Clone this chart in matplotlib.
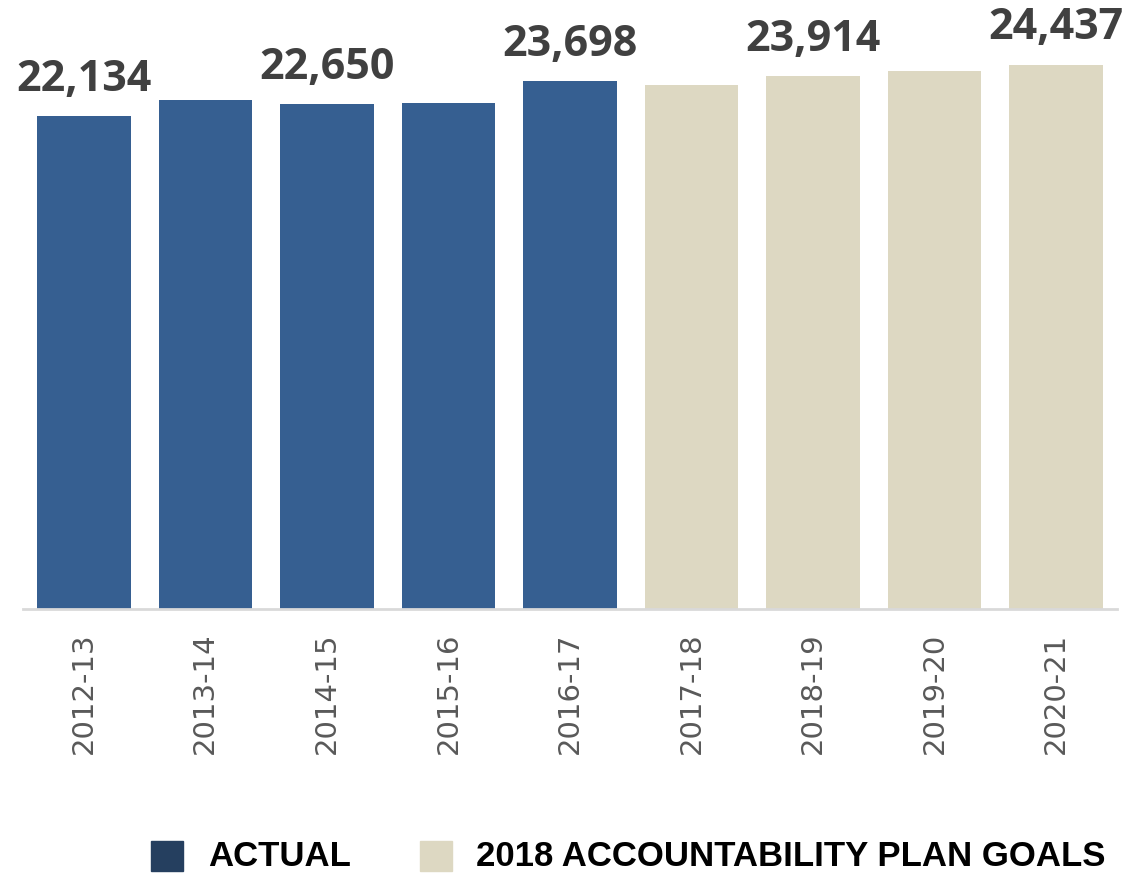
import matplotlib.pyplot as plt
import matplotlib.patches as mpatches

# School years and enrollment values (actual + plan goals)
years = ['2012-13', '2013-14', '2014-15', '2015-16', '2016-17',
         '2017-18', '2018-19', '2019-20', '2020-21']
values = [22134, 22850, 22650, 22700, 23698, 23530, 23914, 24150, 24437]
is_actual = [True, True, True, True, True, False, False, False, False]
# only every other bar carries a value label in the original
shown_labels = ['22,134', None, '22,650', None, '23,698', None, '23,914', None, '24,437']
legend_labels = ['ACTUAL', '2018 ACCOUNTABILITY PLAN GOALS']

actual_color = '#365F91'
goal_color = '#DDD8C2'
legend_actual = '#253F5F'

W, H = 1140, 874
fig = plt.figure(figsize=(W / 100, H / 100), dpi=100)
ax = fig.add_axes([23 / W, 1 - 609 / H, (1117 - 23) / W, 609 / H])

colors = [actual_color if a else goal_color for a in is_actual]
x = list(range(len(years)))
bars = ax.bar(x, values, width=0.77, color=colors, zorder=2)

for bar, lab in zip(bars, shown_labels):
    if lab is None:
        continue
    ax.annotate(lab, (bar.get_x() + bar.get_width() / 2, bar.get_height()),
                xytext=(0, 11), textcoords='offset points',
                ha='center', va='bottom', fontsize=31, fontweight='bold',
                color='#404040', family='Open Sans')

ax.set_xlim(-0.5, len(years) - 0.5)
ax.set_ylim(0, 27340)
ax.set_xticks(x)
ax.set_xticklabels(years, rotation=90, fontsize=21, color='#595959',
                   family='DejaVu Sans')
ax.tick_params(axis='x', length=0, pad=17)
ax.set_yticks([])
for s in ['top', 'right', 'left']:
    ax.spines[s].set_visible(False)
ax.spines['bottom'].set_color('#D9D9D9')
ax.spines['bottom'].set_linewidth(2)
ax.patch.set_visible(False)

# legend drawn by hand at the bottom (pixel positions from the reference)
legend_items = [(151, 208, legend_actual), (420, 476, goal_color)]
for (px, tx, c), lab in zip(legend_items, legend_labels):
    fig.patches.append(mpatches.Rectangle((px / W, 1 - 871 / H), 32 / W, 30 / H,
                                          transform=fig.transFigure, color=c))
    fig.text(tx / W, 1 - 866 / H, lab, ha='left', va='baseline',
             family='Liberation Sans', fontweight='bold', fontsize=25,
             color='black')

fig.savefig('out.png', dpi=100)
